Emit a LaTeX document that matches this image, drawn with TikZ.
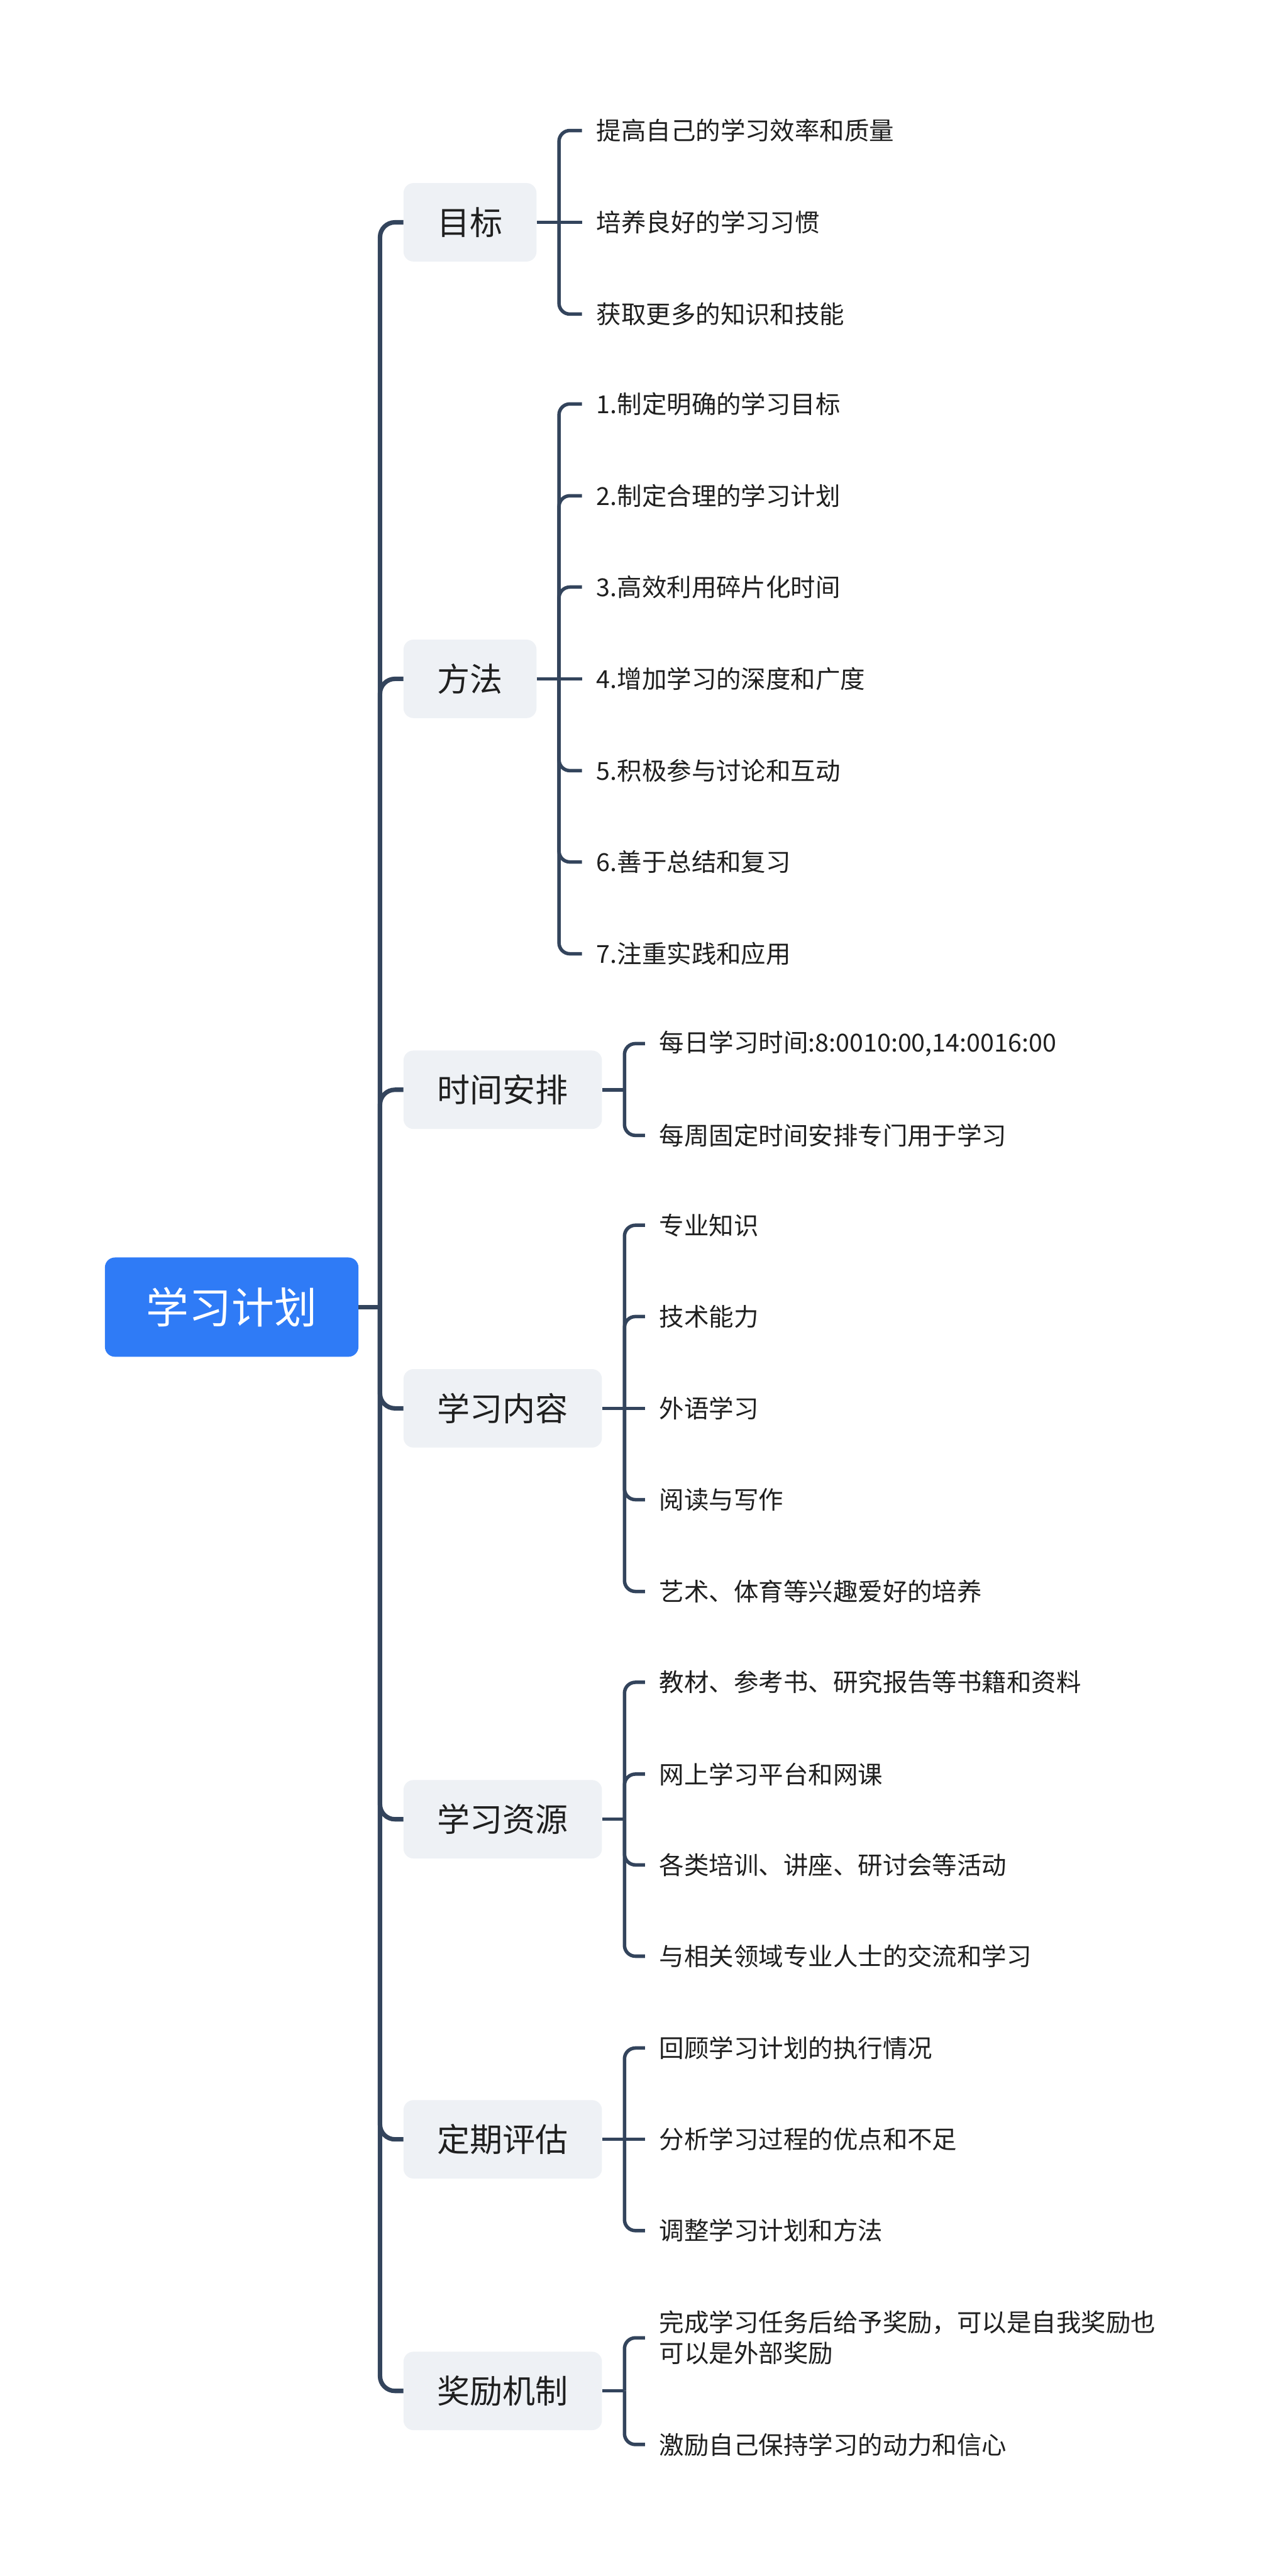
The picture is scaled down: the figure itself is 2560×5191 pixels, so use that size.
\documentclass[tikz,border=0pt]{standalone}
\usepackage{fontspec}
\setmainfont{Noto Sans CJK SC}
\definecolor{lineC}{HTML}{33445C}
\definecolor{boxC}{HTML}{EEF1F5}
\definecolor{rootC}{HTML}{2F7BF6}
\definecolor{textC}{HTML}{1F1F1F}
\begin{document}
\begin{tikzpicture}[x=0.5pt,y=-0.5pt,
  mainline/.style={draw=lineC, line width=4.5pt, rounded corners=15pt},
  subline/.style={draw=lineC, line width=3.5pt, rounded corners=11pt},
  rootbox/.style={fill=rootC, rounded corners=10pt, minimum width=255.5pt, minimum height=100pt, text=white, font=\fontsize{43}{50}\selectfont, inner sep=0pt},
  mainbox/.style={fill=boxC, rounded corners=10pt, minimum height=79pt, inner xsep=34pt, inner ysep=0pt, font=\fontsize{33}{40}\selectfont, text=textC, anchor=west},
  leaf/.style={font=\fontsize{25}{31}\selectfont, text=textC, anchor=west, inner xsep=14.5pt, inner ysep=2pt, align=left},
]
\fill[white] (0,0) rectangle (2560,5191);
\useasboundingbox (0,0) rectangle (2560,5191);

% root and main branches
\node[rootbox] (root) at (467,2634) {学习计划};
\coordinate (hub) at (766,2634);
\node[mainbox] (b1) at (813,448) {目标};
\node[mainbox] (b2) at (813,1368) {方法};
\node[mainbox] (b3) at (813,2196) {时间安排};
\node[mainbox] (b4) at (813,2838) {学习内容};
\node[mainbox] (b5) at (813,3666) {学习资源};
\node[mainbox] (b6) at (813,4311) {定期评估};
\node[mainbox] (b7) at (813,4818) {奖励机制};

\draw[mainline] (root.east) -- (hub);
\foreach \b in {b1,b2,b3,b4,b5,b6,b7} \draw[mainline] (hub) |- (\b.west);

% junction points of sub branches
\foreach \b in {b1,b2,b3,b4,b5,b6,b7} \coordinate (s\b) at ([xshift=22.5pt]\b.east);

% leaves: 目标
\node[leaf] (l11) at (1173,263) {提高自己的学习效率和质量};
\node[leaf] (l12) at (1173,448) {培养良好的学习习惯};
\node[leaf] (l13) at (1173,633) {获取更多的知识和技能};
% 方法
\node[leaf] (l21) at (1173,814) {1.制定明确的学习目标};
\node[leaf] (l22) at (1173,999) {2.制定合理的学习计划};
\node[leaf] (l23) at (1173,1183) {3.高效利用碎片化时间};
\node[leaf] (l24) at (1173,1368) {4.增加学习的深度和广度};
\node[leaf] (l25) at (1173,1553) {5.积极参与讨论和互动};
\node[leaf] (l26) at (1173,1737) {6.善于总结和复习};
\node[leaf] (l27) at (1173,1922) {7.注重实践和应用};
% 时间安排
\node[leaf] (l31) at (1300,2103) {每日学习时间:8:0010:00,14:0016:00};
\node[leaf] (l32) at (1300,2288) {每周固定时间安排专门用于学习};
% 学习内容
\node[leaf] (l41) at (1300,2469) {专业知识};
\node[leaf] (l42) at (1300,2653) {技术能力};
\node[leaf] (l43) at (1300,2838) {外语学习};
\node[leaf] (l44) at (1300,3022) {阅读与写作};
\node[leaf] (l45) at (1300,3207) {艺术、体育等兴趣爱好的培养};
% 学习资源
\node[leaf] (l51) at (1300,3390) {教材、参考书、研究报告等书籍和资料};
\node[leaf] (l52) at (1300,3575) {网上学习平台和网课};
\node[leaf] (l53) at (1300,3758) {各类培训、讲座、研讨会等活动};
\node[leaf] (l54) at (1300,3942) {与相关领域专业人士的交流和学习};
% 定期评估
\node[leaf] (l61) at (1300,4127) {回顾学习计划的执行情况};
\node[leaf] (l62) at (1300,4311) {分析学习过程的优点和不足};
\node[leaf] (l63) at (1300,4495) {调整学习计划和方法};
% 奖励机制
\node[leaf] (l71) at (1300,4711) {完成学习任务后给予奖励，可以是自我奖励也\\可以是外部奖励};
\node[leaf] (l72) at (1300,4926) {激励自己保持学习的动力和信心};

% sub connectors
\foreach \b in {b1,b2,b3,b4,b5,b6,b7} \draw[subline] (\b.east) -- (s\b);
\foreach \l in {l11,l13} \draw[subline] (sb1) |- (\l.west);
\draw[subline] (sb1) -- (l12.west);
\foreach \l in {l21,l22,l23,l25,l26,l27} \draw[subline] (sb2) |- (\l.west);
\draw[subline] (sb2) -- (l24.west);
\foreach \l in {l31,l32} \draw[subline] (sb3) |- (\l.west);
\foreach \l in {l41,l42,l44,l45} \draw[subline] (sb4) |- (\l.west);
\draw[subline] (sb4) -- (l43.west);
\foreach \l in {l51,l52,l53,l54} \draw[subline] (sb5) |- (\l.west);
\foreach \l in {l61,l63} \draw[subline] (sb6) |- (\l.west);
\draw[subline] (sb6) -- (l62.west);
\foreach \l in {l71,l72} \draw[subline] (sb7) |- (\l.west);
\end{tikzpicture}
\end{document}
